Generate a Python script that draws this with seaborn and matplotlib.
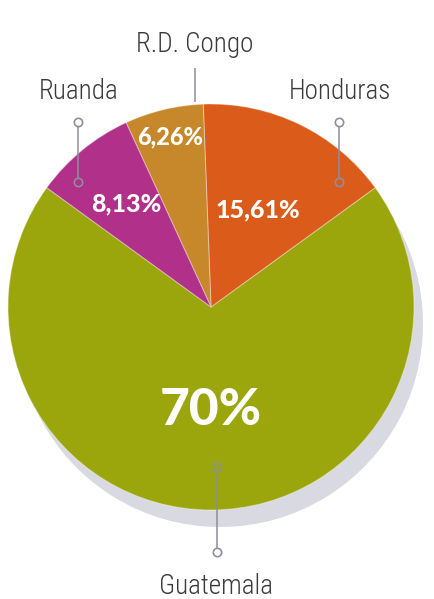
import matplotlib
matplotlib.use("Agg")
import matplotlib.pyplot as plt
import seaborn as sns
import numpy as np
from matplotlib import font_manager

# ---- data ----
countries = ["Guatemala", "Honduras", "R.D. Congo", "Ruanda"]
shares = [70.0, 15.61, 6.26, 8.13]
pct_labels = ["70%", "15,61%", "6,26%", "8,13%"]
colors = ["#9aa60b", "#db5b1b", "#c7882b", "#b0308a"]

sns.set_theme(style="white")
names = {f.name for f in font_manager.fontManager.ttflist}


def pick(cands):
    for c in cands:
        if c in names:
            return c
    return "DejaVu Sans"


label_font = pick(["Roboto Condensed", "Liberation Sans Narrow", "Open Sans Condensed", "DejaVu Sans"])
pct_font = pick(["Lato", "Open Sans", "DejaVu Sans"])
plt.rcParams['font.family'] = [label_font, 'DejaVu Sans']

W, H = 434, 599
fig = plt.figure(figsize=(W / 100, H / 100), dpi=100)
fig.patch.set_facecolor("white")
ax = fig.add_axes([0, 0, 1, 1])

cx, cy, R = 211, 292, 203
start = 270 - shares[0] / sum(shares) * 180

# shadow
ax.pie(shares, colors=["#d9d9e1"] * len(shares), center=(cx + 9, cy - 17), radius=R,
       startangle=start, wedgeprops=dict(linewidth=0))
# main pie
wedges, _ = ax.pie(shares, colors=colors, center=(cx, cy), radius=R, startangle=start,
                   wedgeprops=dict(linewidth=0.8, edgecolor=(1, 1, 1, 0.35)))

ax.set_xlim(0, W)
ax.set_ylim(0, H)
ax.set_aspect("auto")
ax.axis("off")

# percentage labels inside slices
rfrac = [0.51, 0.53, 0.86, 0.66]
fsz = [37, 18, 17, 18]
for w, lab, rf, fs in zip(wedges, pct_labels, rfrac, fsz):
    mid = np.deg2rad((w.theta1 + w.theta2) / 2)
    x = w.center[0] + rf * w.r * np.cos(mid)
    y = w.center[1] + rf * w.r * np.sin(mid)
    ax.text(x, y, lab, ha="center", va="center", color="white", fontsize=fs,
            fontweight="black", family=[pct_font, "DejaVu Sans"])

# leader lines
line_col = "#8e8e9c"


def leader(x, y0, y1, circles=True):
    off = 4 if circles else 0
    ax.plot([x, x], [y0 - off, y1 + off], color=line_col, lw=1.1, solid_capstyle="butt")
    if circles:
        ax.plot([x, x], [y0, y1], ls="none", marker="o", ms=6, mfc="none",
                mec=line_col, mew=1.2)


leader(78, 477, 417)            # Ruanda
leader(339, 477, 417)           # Honduras
leader(217, 132, 47)            # Guatemala
leader(195, 531, 497, circles=False)  # R.D. Congo

txt_col = "#3b3b3b"
kw = dict(ha="center", va="baseline", fontsize=19.5, color=txt_col, fontweight="light")
ax.text(79, 500, countries[3], **kw)
ax.text(195, 547, countries[2], **kw)
ax.text(340, 500, countries[1], **kw)
ax.text(216, 5, countries[0], **kw)

fig.savefig("out.png", dpi=100, facecolor="white")
